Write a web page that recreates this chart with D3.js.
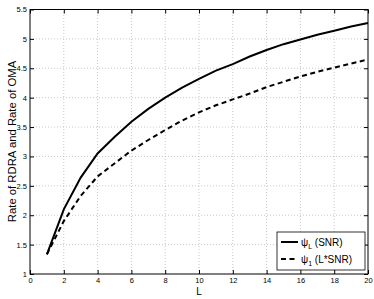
<!DOCTYPE html>
<html>
<head>
<meta charset="utf-8">
<script src="https://cdn.jsdelivr.net/npm/d3@7"></script>
<style>
  body { margin: 0; background: #fff; }
  svg { display: block; font-family: "Liberation Sans", Arial, sans-serif; }
</style>
</head>
<body>
<div id="chart"></div>
<script>
const L = d3.range(1, 21);
const rateRDRA = [1.335, 2.10, 2.64, 3.05, 3.33, 3.59, 3.81, 4.00, 4.17, 4.32,
                  4.46, 4.57, 4.70, 4.81, 4.91, 4.99, 5.07, 5.14, 5.21, 5.27];
const rateOMA = [1.335, 1.90, 2.33, 2.66, 2.88, 3.10, 3.28, 3.45, 3.61, 3.75,
                 3.87, 3.97, 4.07, 4.18, 4.27, 4.36, 4.44, 4.51, 4.58, 4.65];
const xTicks = [0, 2, 4, 6, 8, 10, 12, 14, 16, 18, 20];
const yTicks = [1, 1.5, 2, 2.5, 3, 3.5, 4, 4.5, 5, 5.5];

const width = 374;
const height = 299;
const margin = {top: 9.5, right: 6, bottom: 25, left: 30};

const svg = d3.select("#chart")
  .append("svg")
  .attr("width", width)
  .attr("height", height);

const x = d3.scaleLinear().domain([0, 20]).range([margin.left, width - margin.right]);
const y = d3.scaleLinear().domain([1, 5.5]).range([height - margin.bottom, margin.top]);

// grid
const grid = svg.append("g")
  .attr("stroke", "#b0b0b0")
  .attr("stroke-width", 0.7)
  .attr("stroke-dasharray", "1,2");
grid.selectAll("line.vx")
  .data(xTicks.slice(1, -1))
  .enter().append("line")
  .attr("x1", d => x(d)).attr("x2", d => x(d))
  .attr("y1", y(1)).attr("y2", y(5.5));
grid.selectAll("line.hy")
  .data(yTicks.slice(1, -1))
  .enter().append("line")
  .attr("x1", x(0)).attr("x2", x(20))
  .attr("y1", d => y(d)).attr("y2", d => y(d));

// axes with inward ticks
const fmt = d => String(d);
const axStyle = g => {
  g.select(".domain").remove();
  g.selectAll("line").attr("stroke", "#000");
  g.selectAll("text").attr("fill", "#000").attr("font-size", 7.5);
};
svg.append("g")
  .attr("transform", `translate(0,${y(1)})`)
  .call(d3.axisBottom(x).tickValues(xTicks).tickFormat(fmt).tickSizeInner(-4).tickPadding(3.5))
  .call(axStyle);
svg.append("g")
  .attr("transform", `translate(0,${y(5.5)})`)
  .call(d3.axisTop(x).tickValues(xTicks).tickFormat("").tickSizeInner(-4))
  .call(axStyle);
svg.append("g")
  .attr("transform", `translate(${x(0)},0)`)
  .call(d3.axisLeft(y).tickValues(yTicks).tickFormat(fmt).tickSizeInner(-4).tickPadding(3))
  .call(axStyle);
svg.append("g")
  .attr("transform", `translate(${x(20)},0)`)
  .call(d3.axisRight(y).tickValues(yTicks).tickFormat("").tickSizeInner(-4))
  .call(axStyle);

svg.append("rect")
  .attr("x", x(0)).attr("y", y(5.5))
  .attr("width", x(20) - x(0)).attr("height", y(1) - y(5.5))
  .attr("fill", "none").attr("stroke", "#000").attr("stroke-width", 1);

// lines
const line = d3.line().x((d, i) => x(L[i])).y(d => y(d));
svg.append("path")
  .datum(rateRDRA)
  .attr("d", line)
  .attr("fill", "none").attr("stroke", "#000").attr("stroke-width", 2);
svg.append("path")
  .datum(rateOMA)
  .attr("d", line)
  .attr("fill", "none").attr("stroke", "#000").attr("stroke-width", 2)
  .attr("stroke-dasharray", "5,3.5");

// labels
svg.append("text")
  .attr("x", (x(0) + x(20)) / 2).attr("y", 294.5)
  .attr("text-anchor", "middle").attr("font-size", 10)
  .text("L");
svg.append("text")
  .attr("transform", `translate(16,141.5) rotate(-90)`)
  .attr("text-anchor", "middle").attr("font-size", 11.3)
  .text("Rate of RDRA and Rate of OMA");

// legend
const lg = svg.append("g");
lg.append("rect")
  .attr("x", 277).attr("y", 232).attr("width", 88).attr("height", 38)
  .attr("fill", "#fff").attr("stroke", "#000").attr("stroke-width", 0.8);
const entries = [
  {dash: null, sym: "ψ", sub: "L", rest: " (SNR)"},
  {dash: "5,3.5", sym: "ψ", sub: "1", rest: " (L*SNR)"}
];
entries.forEach((e, i) => {
  const yy = 242 + i * 17;
  lg.append("line")
    .attr("x1", 281).attr("x2", 298).attr("y1", yy).attr("y2", yy)
    .attr("stroke", "#000").attr("stroke-width", 2)
    .attr("stroke-dasharray", e.dash);
  const t = lg.append("text").attr("x", 301).attr("y", yy + 4).attr("font-size", 10);
  t.append("tspan").text(e.sym);
  t.append("tspan").attr("font-size", 7).attr("dy", 3).text(e.sub);
  t.append("tspan").attr("dy", -3).text(e.rest);
});
</script>
</body>
</html>
